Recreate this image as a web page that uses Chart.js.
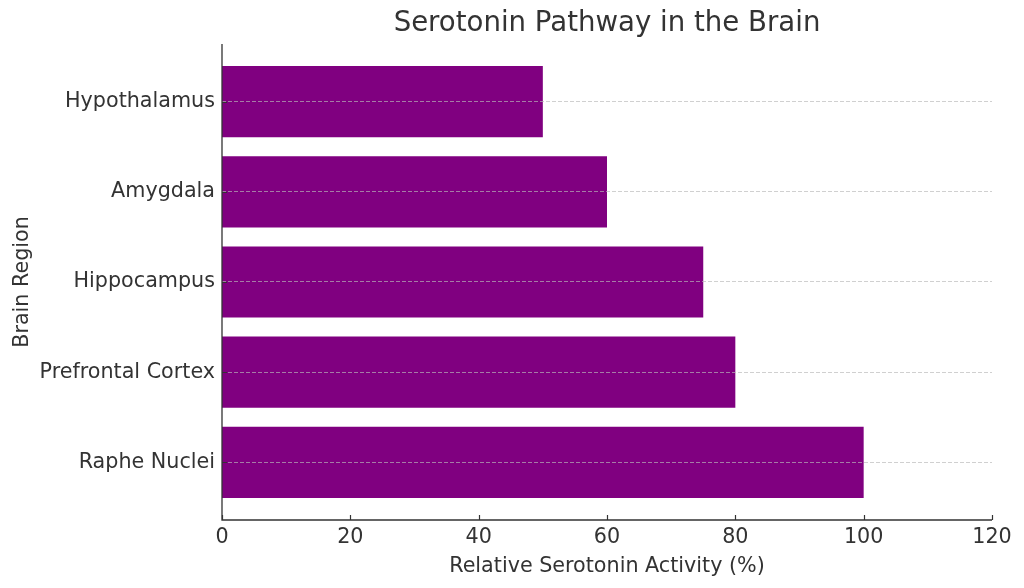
<!DOCTYPE html>
<html>
<head>
<meta charset="utf-8">
<script src="https://cdn.jsdelivr.net/npm/chart.js@4"></script>
<style>
html, body { margin: 0; padding: 0; background: #fff; }
#wrap { width: 1024px; height: 588px; }
</style>
</head>
<body>
<div id="wrap"><canvas id="myChart"></canvas></div>
<script>
// data, bottom row first (index 0 sits at the bottom)
var regions = ['Raphe Nuclei', 'Prefrontal Cortex', 'Hippocampus', 'Amygdala', 'Hypothalamus'];
var activity = [100, 80, 75, 60, 50];
var xTicks = [0, 20, 40, 60, 80, 100, 120];
var chartTitle = 'Serotonin Pathway in the Brain';
var xTitle = 'Relative Serotonin Activity (%)';
var yTitle = 'Brain Region';

var textColor = '#333333';
Chart.defaults.font.family = "'DejaVu Sans', sans-serif";

// title centred over the plot, plus spines and inward tick marks
var frame = {
    id: 'frame',
    afterDraw: function(chart) {
        var ctx = chart.ctx;
        var area = chart.chartArea;
        var xs = chart.scales.x, ys = chart.scales.y;
        ctx.save();
        ctx.fillStyle = textColor;
        ctx.font = "27.6px 'DejaVu Sans'";
        ctx.textAlign = 'center';
        ctx.textBaseline = 'middle';
        ctx.fillText(chartTitle, (area.left + area.right) / 2, 24);

        ctx.strokeStyle = textColor;
        ctx.lineWidth = 1.3;
        ctx.beginPath();
        ctx.moveTo(area.left, area.top);
        ctx.lineTo(area.left, area.bottom);
        ctx.lineTo(area.right, area.bottom);
        ctx.stroke();

        ctx.lineWidth = 1.2;
        ctx.beginPath();
        for (var i = 0; i < xTicks.length; i++) {
            var px = Math.round(xs.getPixelForValue(xTicks[i])) + 0.5;
            ctx.moveTo(px, area.bottom);
            ctx.lineTo(px, area.bottom - 5);
        }
        for (var j = 0; j < regions.length; j++) {
            var py = Math.round(ys.getPixelForValue(j)) + 0.5;
            ctx.moveTo(area.left, py);
            ctx.lineTo(area.left + 5, py);
        }
        ctx.stroke();
        ctx.restore();
    }
};

var points = [];
for (var k = 0; k < regions.length; k++) {
    points.push({ x: activity[k], y: k });
}

var chartData = {
    datasets: [
        {
            label: 'Activity',
            backgroundColor: '#800080',
            borderWidth: 0,
            barPercentage: 1,
            categoryPercentage: 0.79,
            data: points
        }
    ]
};

new Chart(document.getElementById('myChart'), {
    type: 'bar',
    data: chartData,
    plugins: [frame],
    options: {
        indexAxis: 'y',
        responsive: true,
        maintainAspectRatio: false,
        animation: false,
        layout: { padding: { top: 44, right: 32, left: 0, bottom: 0 } },
        plugins: {
            legend: { display: false },
            tooltip: { enabled: false },
            title: { display: false }
        },
        scales: {
            x: {
                type: 'linear',
                min: 0,
                max: 120,
                afterFit: function(s) { s.height = 68; },
                afterBuildTicks: function(s) {
                    s.ticks = xTicks.map(function(v) { return { value: v }; });
                },
                ticks: { color: textColor, font: { size: 20.7 }, padding: 5 },
                grid: { display: false, drawTicks: false },
                border: { display: false },
                title: {
                    display: true,
                    text: xTitle,
                    color: textColor,
                    font: { size: 20.7 },
                    padding: { top: 0, bottom: 9 }
                }
            },
            y: {
                type: 'linear',
                min: -0.64,
                max: 4.64,
                offset: false,
                afterFit: function(s) { s.width = 222; },
                afterBuildTicks: function(s) {
                    s.ticks = regions.map(function(r, i) { return { value: i }; });
                },
                ticks: {
                    color: textColor,
                    font: { size: 20.7 },
                    padding: 7,
                    autoSkip: false,
                    callback: function(v) { return regions[v]; }
                },
                grid: {
                    color: 'rgba(185,185,185,0.75)',
                    lineWidth: 0.9,
                    drawTicks: false,
                    offset: false,
                    z: 1
                },
                border: { display: false, dash: [4, 2] },
                title: {
                    display: true,
                    text: yTitle,
                    color: textColor,
                    font: { size: 20.7 },
                    padding: { top: 10, bottom: 0 }
                }
            }
        }
    }
});
</script>
</body>
</html>
